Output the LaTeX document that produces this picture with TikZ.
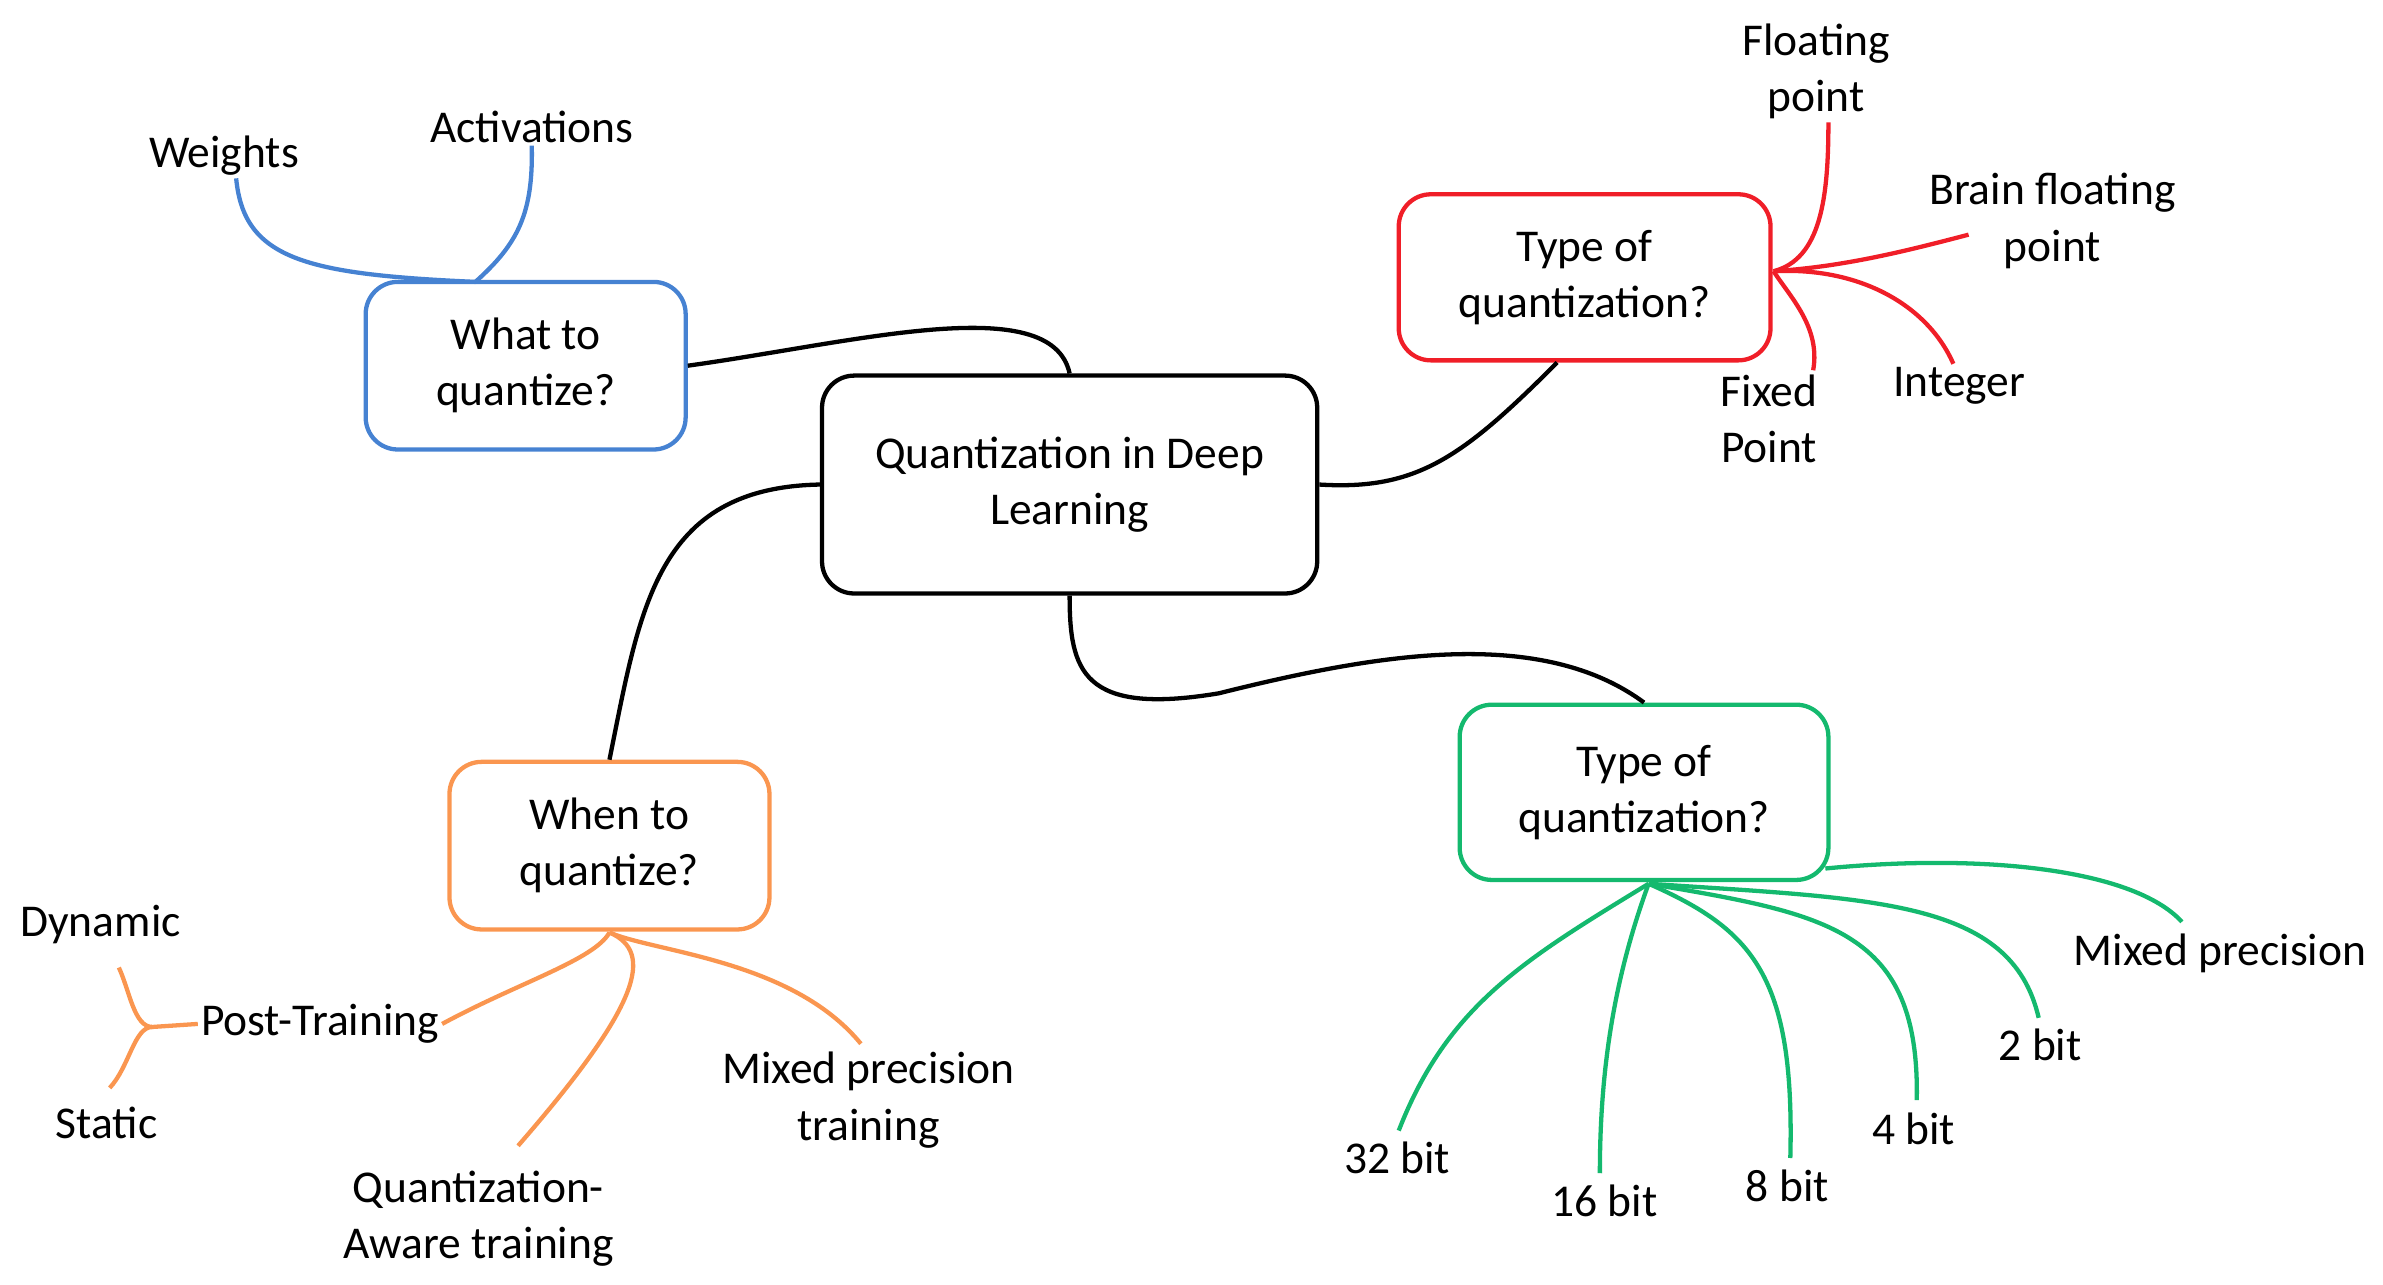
\documentclass[tikz,border=0pt]{standalone}
\usepackage{fontspec}
\setmainfont{Carlito}
\begin{document}
\begin{tikzpicture}[x=0.02cm,y=-0.02cm,
  box/.style={draw,line width=1.6pt,rounded corners=12pt,align=center,inner sep=0pt,font=\fontsize{17}{21}\selectfont},
  lbl/.style={align=center,inner sep=1pt,font=\fontsize{17}{21}\selectfont},
  con/.style={line width=1.6pt}]
\definecolor{bl}{RGB}{70,130,210}
\definecolor{rd}{RGB}{240,30,40}
\definecolor{gr}{RGB}{20,185,110}
\definecolor{og}{RGB}{250,150,80}
\useasboundingbox (0,0) rectangle (1564,843);
\node[box,minimum width=325*0.02cm,minimum height=143*0.02cm] (c) at (702,318) {Quantization in Deep\\Learning};
\node[box,draw=bl,minimum width=210*0.02cm,minimum height=110*0.02cm] (w) at (345,240) {What to\\quantize?};
\node[box,draw=rd,minimum width=244*0.02cm,minimum height=109*0.02cm] (r) at (1040,182) {Type of\\quantization?};
\node[box,draw=gr,minimum width=242*0.02cm,minimum height=115*0.02cm] (g) at (1079,520) {Type of\\quantization?};
\node[box,draw=og,minimum width=210*0.02cm,minimum height=110*0.02cm] (o) at (400,555) {When to\\quantize?};
% main connectors
\draw[con] (w.east) .. controls (560,225) and (690,190) .. (c.north);
\draw[con] (c.east) .. controls (930,322) and (960,300) .. (r.south -| 1022,0);
\draw[con] (c.south) .. controls (702,440) and (710,470) .. (800,455) .. controls (900,430) and (1010,410) .. (g.north);
\draw[con] (c.west) .. controls (430,320) and (420,400) .. (o.north);
% blue
\coordinate (bh) at (312,185);
\node[lbl] (wt) at (147,102) {Weights};
\node[lbl] (ac) at (349,83) {Activations};
\draw[con,bl] (bh) .. controls (200,180) and (160,170) .. (wt.south -| 155,0);
\draw[con,bl] (bh) .. controls (340,160) and (350,140) .. (ac.south);
% red
\coordinate (rh) at (1164,178);
\node[lbl] (fp) at (1192,47) {Floating\\point};
\node[lbl] (bf) at (1347,145) {Brain floating\\point};
\node[lbl] (in) at (1286,253) {Integer};
\node[lbl] (fx) at (1161,275) {Fixed\\Point};
\draw[con,rd] (rh) .. controls (1195,170) and (1200,130) .. (fp.south -| 1200,0);
\draw[con,rd] (rh) .. controls (1210,175) and (1250,165) .. (1292,154);
\draw[con,rd] (rh) .. controls (1220,175) and (1265,200) .. (in.north -| 1282,0);
\draw[con,rd] (rh) .. controls (1175,195) and (1195,215) .. (1190,243);
% green
\coordinate (gh) at (1082,580);
\node[lbl] (b32) at (917,760) {32 bit};
\node[lbl] (b16) at (1053,788) {16 bit};
\node[lbl] (b8) at (1173,778) {8 bit};
\node[lbl] (b4) at (1256,741) {4 bit};
\node[lbl] (b2) at (1339,686) {2 bit};
\node[lbl] (mp) at (1457,626) {Mixed precision};
\draw[con,gr] (gh) .. controls (1000,630) and (950,660) .. (918,742);
\draw[con,gr] (gh) .. controls (1060,640) and (1050,700) .. (1050,770);
\draw[con,gr] (gh) .. controls (1150,610) and (1178,640) .. (1175,760);
\draw[con,gr] (gh) .. controls (1200,600) and (1260,610) .. (1258,722);
\draw[con,gr] (gh) .. controls (1230,590) and (1320,590) .. (1338,668);
\draw[con,gr] (1198,570) .. controls (1300,560) and (1400,570) .. (1432,605);
% orange
\coordinate (oh) at (400,612);
\node[lbl] (pt) at (210,672) {Post-Training};
\node[lbl] (qa) at (314,800) {Quantization-\\Aware training};
\node[lbl] (mt) at (570,722) {Mixed precision\\training};
\node[lbl] (dy) at (66,607) {Dynamic};
\node[lbl] (st) at (70,737) {Static};
\draw[con,og] (oh) .. controls (390,630) and (340,645) .. (pt.east);
\draw[con,og] (oh) .. controls (430,625) and (420,660) .. (340,752);
\draw[con,og] (oh) .. controls (430,625) and (520,630) .. (565,685);
\draw[con,og] (pt.west) -- (100,674) .. controls (88,674) and (85,650) .. (78,635);
\draw[con,og] (100,674) .. controls (88,674) and (85,700) .. (72,714);
\end{tikzpicture}
\end{document}
